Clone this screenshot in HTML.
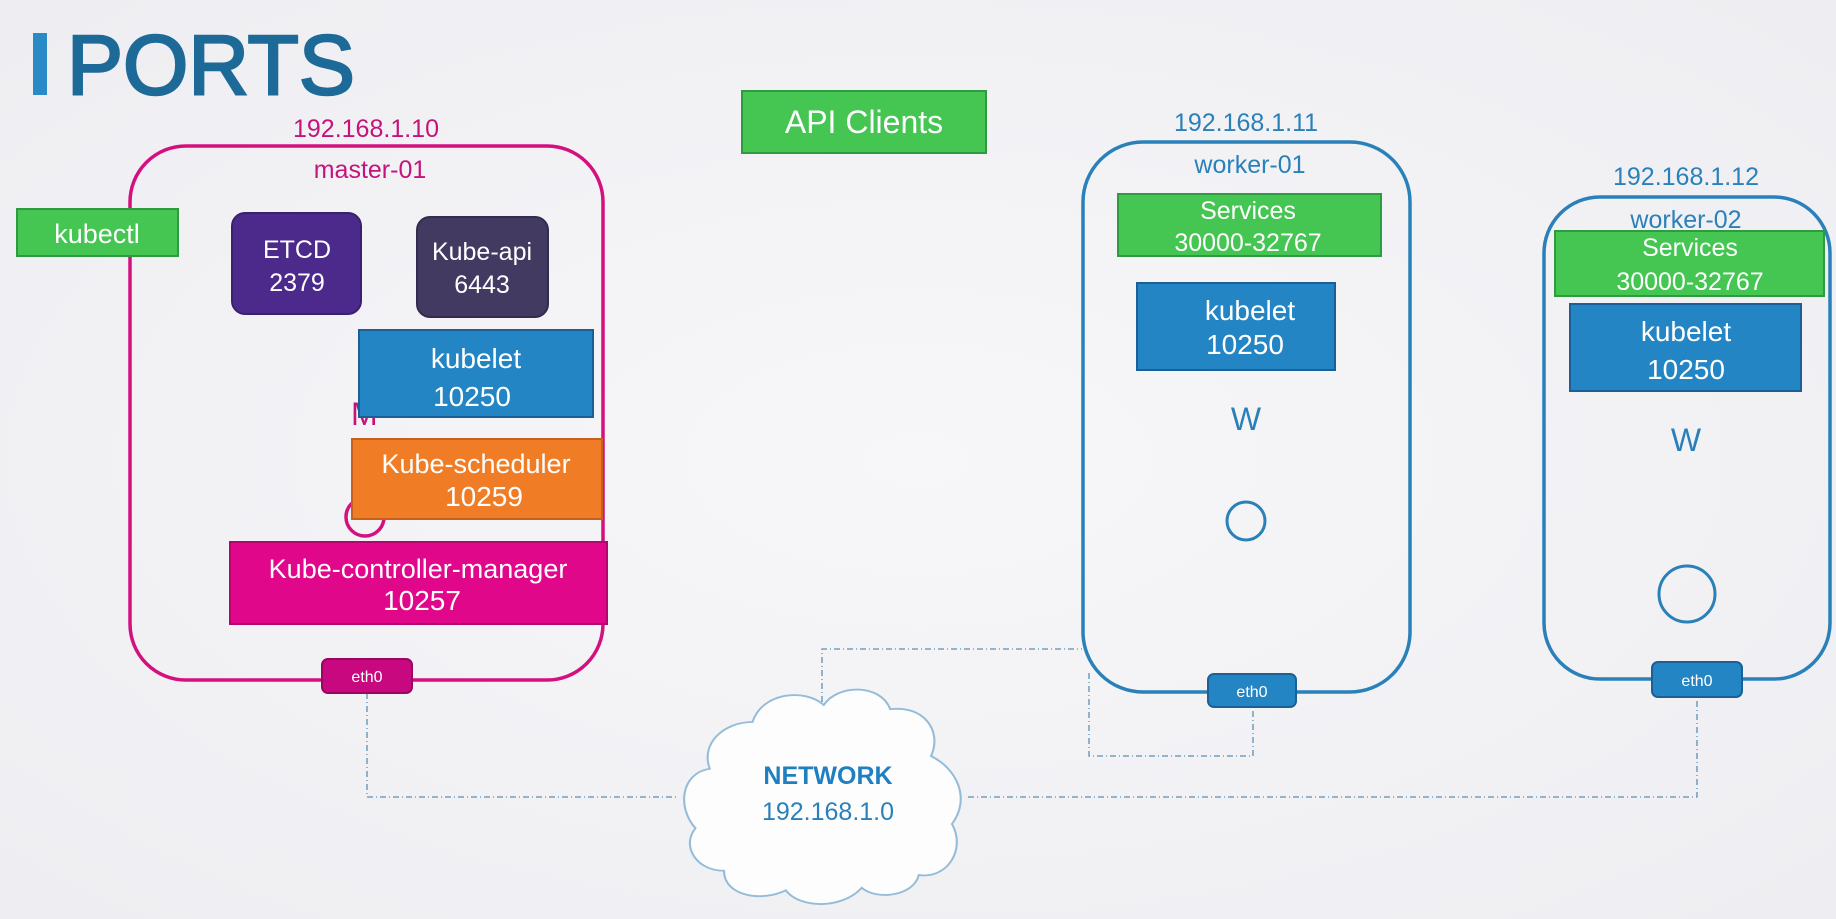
<!DOCTYPE html>
<html><head><meta charset="utf-8"><style>
html,body{margin:0;padding:0;background:#f2f2f5;}
svg{display:block;}
text{font-family:"Liberation Sans",sans-serif;}
</style></head><body>
<svg width="1836" height="919" viewBox="0 0 1836 919" xmlns="http://www.w3.org/2000/svg">
<defs>
<radialGradient id="bg" cx="50%" cy="50%" r="70%"><stop offset="0" stop-color="#f7f7f9"/><stop offset="1" stop-color="#eeeef2"/></radialGradient>
</defs>
<rect width="1836" height="919" fill="url(#bg)"/>
<!-- title -->
<rect x="33" y="33" width="14" height="62" fill="#2a8ac8"/>
<text x="67" y="94" font-size="84" fill="#1d6a98" stroke="#1d6a98" stroke-width="2.5">PORTS</text>

<!-- network lines -->
<g fill="none" stroke="#5b8fb3" stroke-width="1.3" stroke-dasharray="6,3,1,3">
<polyline points="367,693 367,797 676,797"/>
<polyline points="968,797 1697,797 1697,697"/>
<polyline points="822,715 822,649 1082,649"/>
<polyline points="1089,673 1089,756 1253,756 1253,707"/>
</g>

<!-- cloud -->
<g transform="translate(686,688) scale(0.95,0.85)">
<path d="M70,40 C80,5 125,0 145,20 C160,-5 205,-5 215,25 C250,20 270,50 258,80 C285,95 300,130 280,160 C295,190 275,225 245,220 C240,245 200,250 185,235 C165,260 120,260 105,238 C80,252 40,245 40,215 C10,215 -5,185 10,165 C-10,140 -5,100 25,95 C15,65 40,40 70,40 Z" fill="#fdfdfe" stroke="#94bcd9" stroke-width="2.2"/>
</g>
<text x="828" y="784" font-size="25" font-weight="bold" fill="#1f7fc0" text-anchor="middle">NETWORK</text>
<text x="828" y="820" font-size="25" fill="#2a80b9" text-anchor="middle">192.168.1.0</text>

<!-- master -->
<rect x="130" y="146" width="473" height="534" rx="56" fill="none" stroke="#d4107f" stroke-width="3.5"/>
<text x="366" y="137" font-size="25" fill="#c5137c" text-anchor="middle">192.168.1.10</text>
<text x="370" y="178" font-size="25" fill="#c5137c" text-anchor="middle">master-01</text>
<rect x="17" y="209" width="161" height="47" fill="#45c552" stroke="#2f9a3f" stroke-width="2"/>
<text x="97" y="243" font-size="27" fill="#fff" text-anchor="middle">kubectl</text>
<rect x="232" y="213" width="129" height="101" rx="13" fill="#4b2a8c" stroke="#3a206e" stroke-width="2"/>
<text x="297" y="258" font-size="25" fill="#fff" text-anchor="middle">ETCD</text>
<text x="297" y="291" font-size="25" fill="#fff" text-anchor="middle">2379</text>
<rect x="417" y="217" width="131" height="100" rx="13" fill="#433a62" stroke="#332c4e" stroke-width="2"/>
<text x="482" y="260" font-size="25" fill="#fff" text-anchor="middle">Kube-api</text>
<text x="482" y="293" font-size="25" fill="#fff" text-anchor="middle">6443</text>
<text x="351" y="425" font-size="32" fill="#c5137c">M</text>
<rect x="359" y="330" width="234" height="87" fill="#2485c4" stroke="#1a5f96" stroke-width="2"/>
<text x="476" y="368" font-size="28" fill="#fff" text-anchor="middle">kubelet</text>
<text x="472" y="406" font-size="28" fill="#fff" text-anchor="middle">10250</text>
<circle cx="365" cy="517" r="19" fill="none" stroke="#d4107f" stroke-width="3.5"/>
<rect x="352" y="439" width="250" height="80" fill="#f07d25" stroke="#c5601f" stroke-width="2"/>
<text x="476" y="473" font-size="27" fill="#fff" text-anchor="middle">Kube-scheduler</text>
<text x="484" y="506" font-size="28" fill="#fff" text-anchor="middle">10259</text>
<rect x="230" y="542" width="377" height="82" fill="#e0078a" stroke="#b3066e" stroke-width="2"/>
<text x="418" y="578" font-size="27" fill="#fff" text-anchor="middle">Kube-controller-manager</text>
<text x="422" y="610" font-size="28" fill="#fff" text-anchor="middle">10257</text>
<rect x="322" y="659" width="90" height="34" rx="6" fill="#c8087f" stroke="#9c0563" stroke-width="2"/>
<text x="367" y="682" font-size="16" fill="#fff" text-anchor="middle">eth0</text>

<!-- API Clients -->
<rect x="742" y="91" width="244" height="62" fill="#45c552" stroke="#2f9a3f" stroke-width="2"/>
<text x="864" y="133" font-size="32" fill="#fff" text-anchor="middle">API Clients</text>

<!-- worker-01 -->
<rect x="1083" y="142" width="327" height="550" rx="60" fill="none" stroke="#2a80b9" stroke-width="3.5"/>
<text x="1246" y="131" font-size="25" fill="#2a80b9" text-anchor="middle">192.168.1.11</text>
<text x="1250" y="173" font-size="25" fill="#2a80b9" text-anchor="middle">worker-01</text>
<rect x="1118" y="194" width="263" height="62" fill="#45c552" stroke="#2f9a3f" stroke-width="2"/>
<text x="1248" y="219" font-size="25" fill="#fff" text-anchor="middle">Services</text>
<text x="1248" y="251" font-size="25" fill="#fff" text-anchor="middle">30000-32767</text>
<rect x="1137" y="283" width="198" height="87" fill="#2485c4" stroke="#1a5f96" stroke-width="2"/>
<text x="1250" y="320" font-size="28" fill="#fff" text-anchor="middle">kubelet</text>
<text x="1245" y="354" font-size="28" fill="#fff" text-anchor="middle">10250</text>
<text x="1246" y="430" font-size="32" fill="#2a80b9" text-anchor="middle">W</text>
<circle cx="1246" cy="521" r="19" fill="none" stroke="#2a80b9" stroke-width="3"/>
<rect x="1208" y="674" width="88" height="33" rx="6" fill="#2485c4" stroke="#1a5f96" stroke-width="2"/>
<text x="1252" y="697" font-size="16" fill="#fff" text-anchor="middle">eth0</text>

<!-- worker-02 -->
<rect x="1544" y="197" width="286" height="482" rx="56" fill="none" stroke="#2a80b9" stroke-width="3.5"/>
<text x="1686" y="185" font-size="25" fill="#2a80b9" text-anchor="middle">192.168.1.12</text>
<text x="1686" y="228" font-size="25" fill="#2a80b9" text-anchor="middle">worker-02</text>
<rect x="1555" y="231" width="269" height="65" fill="#45c552" stroke="#2f9a3f" stroke-width="2"/>
<text x="1690" y="256" font-size="25" fill="#fff" text-anchor="middle">Services</text>
<text x="1690" y="290" font-size="25" fill="#fff" text-anchor="middle">30000-32767</text>
<rect x="1570" y="304" width="231" height="87" fill="#2485c4" stroke="#1a5f96" stroke-width="2"/>
<text x="1686" y="341" font-size="28" fill="#fff" text-anchor="middle">kubelet</text>
<text x="1686" y="379" font-size="28" fill="#fff" text-anchor="middle">10250</text>
<text x="1686" y="451" font-size="32" fill="#2a80b9" text-anchor="middle">W</text>
<circle cx="1687" cy="594" r="28" fill="none" stroke="#2a80b9" stroke-width="3"/>
<rect x="1652" y="662" width="90" height="35" rx="6" fill="#2485c4" stroke="#1a5f96" stroke-width="2"/>
<text x="1697" y="686" font-size="16" fill="#fff" text-anchor="middle">eth0</text>
</svg>
</body></html>
